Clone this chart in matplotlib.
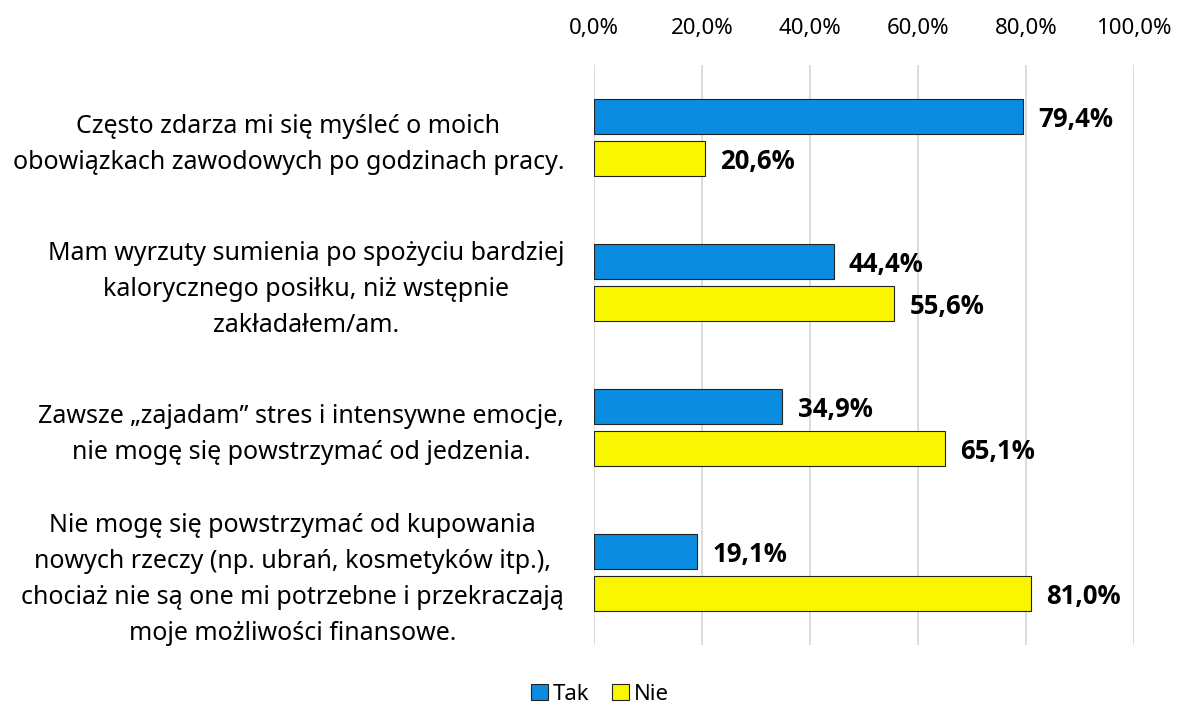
import matplotlib
matplotlib.use('Agg')
import matplotlib.pyplot as plt
import numpy as np

plt.rcParams['font.family'] = ['Open Sans', 'DejaVu Sans']

# dane z ankiety (procent odpowiedzi)
kategorie = [
    'Często zdarza mi się myśleć o moich\nobowiązkach zawodowych po godzinach pracy.',
    'Mam wyrzuty sumienia po spożyciu bardziej\nkalorycznego posiłku, niż wstępnie\nzakładałem/am.',
    'Zawsze „zajadam” stres i intensywne emocje,\nnie mogę się powstrzymać od jedzenia.',
    'Nie mogę się powstrzymać od kupowania\nnowych rzeczy (np. ubrań, kosmetyków itp.),\nchociaż nie są one mi potrzebne i przekraczają\nmoje możliwości finansowe.',
]
tak = [79.4, 44.4, 34.9, 19.1]
nie = [20.6, 55.6, 65.1, 81.0]
ticks = [0, 20, 40, 60, 80, 100]

kolor_tak = '#0A8CE0'
kolor_nie = '#FAF500'

fig = plt.figure(figsize=(11.78, 7.07), dpi=100)
ax = fig.add_axes([0.5042, 0.0877, 0.4584, 0.8204])

y = np.arange(len(kategorie)) + 0.5
h = 0.24
off = 0.145
b1 = ax.barh(y - off, tak, height=h, color=kolor_tak, edgecolor='#222222', linewidth=0.8, label='Tak', zorder=3)
b2 = ax.barh(y + off, nie, height=h, color=kolor_nie, edgecolor='#222222', linewidth=0.8, label='Nie', zorder=3)

# etykiety wartości
for bars, vals in [(b1, tak), (b2, nie)]:
    for bar, v in zip(bars, vals):
        ax.text(v + 2.8, bar.get_y() + bar.get_height() / 2 + 0.02,
                f'{v:.1f}%'.replace('.', ','), va='center', ha='left',
                fontsize=18.5, fontweight='bold', fontstretch='normal', color='black')

ax.set_xlim(0, 100)
ax.set_ylim(len(kategorie), 0)
ax.set_xticks(ticks)
ax.set_xticklabels([f'{t:.1f}%'.replace('.', ',') for t in ticks], fontsize=16, family='Noto Sans')
ax.xaxis.tick_top()
ax.tick_params(axis='x', length=0, pad=18.5)
ax.set_yticks([])
for s in ax.spines.values():
    s.set_visible(False)
ax.grid(axis='x', color='#D9D9D9', linewidth=1.3, zorder=0)

for yi, txt in zip(y, kategorie):
    ax.text(-5.5, yi + 0.05, txt, ha='right', va='center', multialignment='center',
            fontsize=18, linespacing=1.57, family='Noto Sans')

fig.legend(handles=[b1, b2], labels=['Tak', 'Nie'], loc='center', bbox_to_anchor=(600 / 1178, 1 - 694 / 707),
           ncol=2, frameon=False, prop={'family': 'Noto Sans', 'size': 16}, handlelength=0.75, handleheight=0.75,
           handletextpad=0.25, columnspacing=1.0)

fig.savefig('out.png', dpi=100)
